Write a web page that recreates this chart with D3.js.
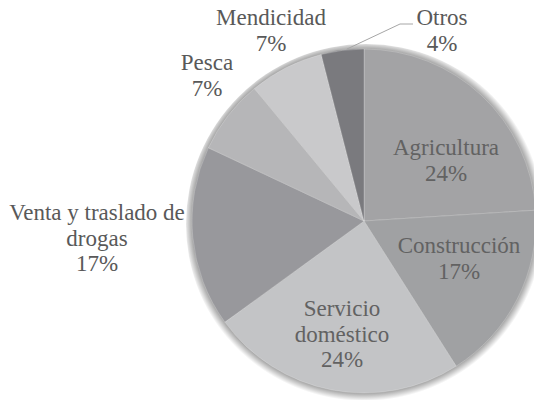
<!DOCTYPE html>
<html>
<head>
<meta charset="utf-8">
<script src="https://cdn.jsdelivr.net/npm/d3@7"></script>
</head>
<body style="margin:0">
<svg id="c" width="534" height="400"></svg>
<script>
const categories = ["Agricultura", "Construcción", "Servicio doméstico", "Venta y traslado de drogas", "Pesca", "Mendicidad", "Otros"];
const values = [24, 17, 24, 17, 7, 7, 4];
const labelLines = [["Agricultura"], ["Construcción"], ["Servicio", "doméstico"], ["Venta y traslado de", "drogas"], ["Pesca"], ["Mendicidad"], ["Otros"]];
const colors = ["#a3a3a5", "#a0a1a3", "#c3c4c6", "#98989c", "#b6b6b8", "#c9c9cb", "#7a7a7e"];

const svg = d3.select("#c");
const cx = 364, cy = 221, r = 172;

const defs = svg.append("defs");
const rg = defs.append("radialGradient").attr("id", "shg")
  .attr("gradientUnits", "userSpaceOnUse").attr("cx", 0).attr("cy", 0).attr("r", r + 8);
rg.append("stop").attr("offset", 0.9).attr("stop-color", "#000").attr("stop-opacity", 0.5);
rg.append("stop").attr("offset", r / (r + 8)).attr("stop-color", "#000").attr("stop-opacity", 0.35);
rg.append("stop").attr("offset", 1).attr("stop-color", "#000").attr("stop-opacity", 0);

const pie = d3.pie().sort(null).value(d => d)(values);
const arc = d3.arc().innerRadius(0).outerRadius(r);

const g = svg.append("g").attr("transform", `translate(${cx},${cy})`);
g.append("circle").attr("cx", 2).attr("cy", 3).attr("r", r + 8).attr("fill", "url(#shg)");
g.append("g")
  .selectAll("path").data(pie).join("path")
  .attr("d", arc)
  .attr("fill", (d, i) => colors[i])
  .attr("stroke", "rgba(255,255,255,0.35)")
  .attr("stroke-width", 0.6);

const labelPos = [
  {x: 446, y: 155, inside: true},
  {x: 459, y: 253, inside: true},
  {x: 342, y: 316, inside: true},
  {x: 97, y: 220, inside: false},
  {x: 207, y: 70, inside: false},
  {x: 271, y: 25, inside: false},
  {x: 442, y: 25, inside: false}
];

svg.append("polyline")
  .attr("points", "413,24 400,24 347,49")
  .attr("fill", "none").attr("stroke", "#a6a6a6").attr("stroke-width", 1);

labelPos.forEach((p, i) => {
  const lines = labelLines[i].concat([values[i] + "%"]);
  lines.forEach((ln, k) => {
    svg.append("text")
      .attr("x", p.x).attr("y", p.y + k * 25.5)
      .style("font-family", '"Liberation Serif"')
      .style("font-size", "23px")
      .style("text-anchor", "middle")
      .style("fill", p.inside ? "#626262" : "#595959")
      .text(ln);
  });
});
</script>
</body>
</html>
